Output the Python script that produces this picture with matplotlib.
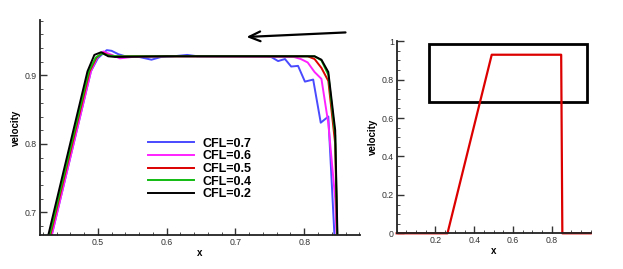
import matplotlib
matplotlib.use("Agg")
import matplotlib.pyplot as plt
from matplotlib.ticker import MultipleLocator
from matplotlib.patches import Rectangle

plt.rcParams["font.family"] = ["Liberation Sans", "DejaVu Sans"]

# ---- left panel: zoom of plateau for several CFL numbers ----
x_cfl07 = [0.420, 0.490, 0.500, 0.513, 0.520, 0.530, 0.540, 0.560, 0.578, 0.592,
           0.610, 0.630, 0.645, 0.700, 0.745, 0.752, 0.762, 0.772, 0.781, 0.791,
           0.801, 0.813, 0.824, 0.835, 0.845, 0.855]
y_cfl07 = [0.612, 0.906, 0.925, 0.937, 0.936, 0.931, 0.928, 0.927, 0.923, 0.927,
           0.928, 0.930, 0.928, 0.928, 0.928, 0.927, 0.921, 0.924, 0.913, 0.914,
           0.891, 0.894, 0.831, 0.840, 0.645, 0.0]

x_cfl06 = [0.420, 0.490, 0.499, 0.508, 0.518, 0.532, 0.550, 0.600, 0.785, 0.795,
           0.805, 0.815, 0.825, 0.835, 0.845, 0.855]
y_cfl06 = [0.612, 0.906, 0.926, 0.935, 0.931, 0.925, 0.927, 0.928, 0.927, 0.924,
           0.919, 0.905, 0.895, 0.830, 0.720, 0.450]

x_cfl05 = [0.418, 0.488, 0.498, 0.507, 0.517, 0.530, 0.600, 0.805, 0.815, 0.825,
           0.835, 0.845, 0.855]
y_cfl05 = [0.612, 0.906, 0.926, 0.933, 0.929, 0.928, 0.928, 0.928, 0.924, 0.911,
           0.892, 0.800, 0.300]

x_cfl04 = [0.417, 0.487, 0.497, 0.506, 0.516, 0.530, 0.600, 0.815, 0.825, 0.835,
           0.845, 0.855]
y_cfl04 = [0.612, 0.906, 0.926, 0.932, 0.929, 0.928, 0.928, 0.928, 0.922, 0.901,
           0.812, 0.320]

x_cfl02 = [0.415, 0.485, 0.495, 0.505, 0.515, 0.525, 0.600, 0.815, 0.825, 0.835,
           0.845, 0.855]
y_cfl02 = [0.612, 0.906, 0.930, 0.934, 0.928, 0.927, 0.928, 0.928, 0.923, 0.905,
           0.820, 0.350]

series = [
    ("CFL=0.7", x_cfl07, y_cfl07, "#4a4aff"),
    ("CFL=0.6", x_cfl06, y_cfl06, "#ff22ff"),
    ("CFL=0.5", x_cfl05, y_cfl05, "#dd0000"),
    ("CFL=0.4", x_cfl04, y_cfl04, "#11bb11"),
    ("CFL=0.2", x_cfl02, y_cfl02, "#000000"),
]

# ---- right panel: full profile ----
x_full = [0.0, 0.262, 0.490, 0.848, 0.854, 1.0]
y_full = [0.0, 0.0, 0.930, 0.930, 0.0, 0.0]

fig = plt.figure(figsize=(6.23, 2.69), dpi=100)
ax1 = fig.add_axes([0.0642, 0.1264, 0.5136, 0.7993])
ax2 = fig.add_axes([0.6367, 0.1327, 0.3114, 0.7138])


def style(ax, xmaj, xmin, ymaj, ymin):
    for s in ("top", "right"):
        ax.spines[s].set_visible(False)
    for s in ("left", "bottom"):
        ax.spines[s].set_linewidth(1.3)
        ax.spines[s].set_color("#222222")
    ax.xaxis.set_major_locator(MultipleLocator(xmaj))
    ax.xaxis.set_minor_locator(MultipleLocator(xmin))
    ax.yaxis.set_major_locator(MultipleLocator(ymaj))
    ax.yaxis.set_minor_locator(MultipleLocator(ymin))
    ax.tick_params(which="both", direction="in", labelsize=6.3, labelcolor="#333333",
                   color="#333333", pad=2)
    ax.tick_params(which="major", length=5, width=1.0)
    ax.tick_params(which="minor", length=2.5, width=0.6)
    ax.set_xlabel("x", fontsize=7, fontweight="bold", labelpad=1)
    ax.set_ylabel("velocity", fontsize=7, fontweight="bold", labelpad=3)


for lab, xs, ys, c in series:
    ax1.plot(xs, ys, color=c, lw=1.4, label=lab)
ax1.set_xlim(0.416, 0.881)
ax1.set_ylim(0.667, 0.981)
style(ax1, 0.1, 0.02, 0.1, 0.02)
ax1.legend(loc="upper left", bbox_to_anchor=(0.3375, 0.452), frameon=False,
           prop={"size": 9, "weight": "bold"}, handlelength=3.7,
           handletextpad=0.7, labelspacing=0.05, borderpad=0, borderaxespad=0)
ax1.annotate("", xy=(0.712, 0.956), xytext=(0.864, 0.963),
             arrowprops=dict(arrowstyle="->,head_length=0.8,head_width=0.35",
                             color="black", lw=1.6), annotation_clip=False)

ax2.plot(x_full, y_full, color="#dd0000", lw=1.6, clip_on=False)
ax2.set_xlim(0, 1)
ax2.set_ylim(0, 1)
style(ax2, 0.2, 0.05, 0.2, 0.05)
ax2.set_xticks([0.2, 0.4, 0.6, 0.8])
ax2.set_yticks([0, 0.2, 0.4, 0.6, 0.8, 1.0])
ax2.set_yticklabels(["0", "0.2", "0.4", "0.6", "0.8", "1"])
ax2.add_patch(Rectangle((0.168, 0.682), 0.811, 0.3055, fill=False,
                        ec="black", lw=2.0, clip_on=False))

fig.savefig("out.png", dpi=100)
